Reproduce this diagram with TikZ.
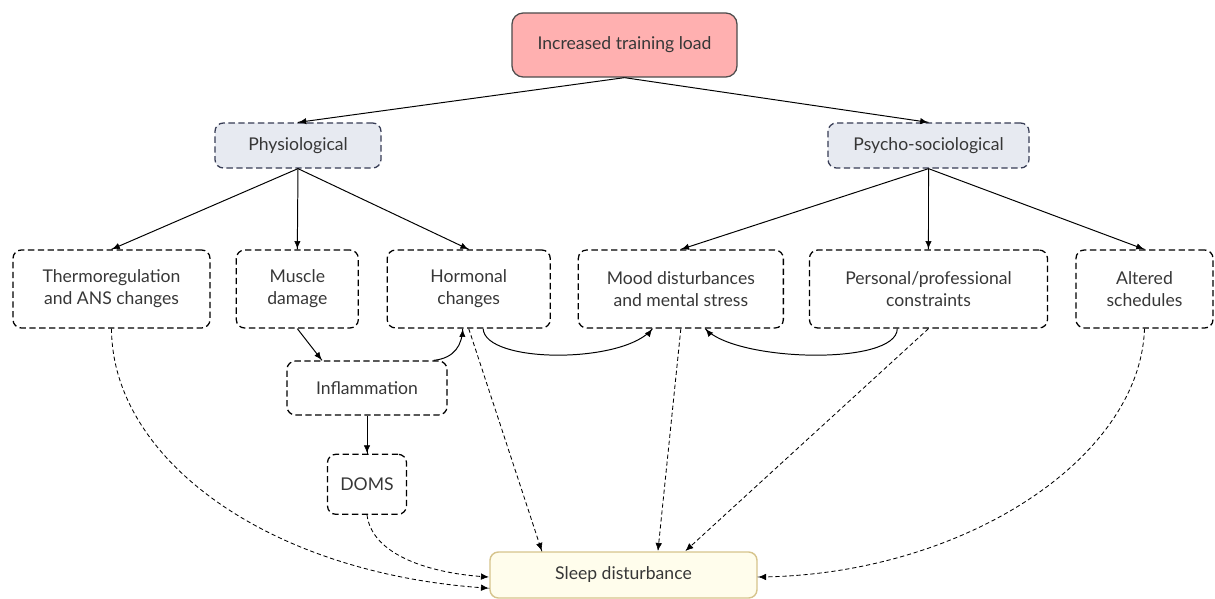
\documentclass[tikz,border=0pt]{standalone}
\usepackage{fontspec}
\setmainfont{Lato}
\usetikzlibrary{positioning, calc, arrows.meta, decorations.markings}

\definecolor{loadpink}{RGB}{255,176,176}
\definecolor{groupgray}{RGB}{231,234,241}
\definecolor{groupline}{RGB}{55,60,85}
\definecolor{sleepfill}{RGB}{255,253,236}
\definecolor{sleepline}{RGB}{214,196,140}
\definecolor{textgray}{RGB}{55,55,55}

\tikzstyle{Arrow} = [
line width=0.7pt,
decoration={
markings,
mark=at position 0.9999 with {
\arrow{Latex[length=6pt,width=5pt]}}},
preaction = {decorate}]
\tikzstyle{Dashed} = [Arrow, dash pattern=on 3pt off 2pt, line width=0.6pt]
\tikzstyle{Box} = [draw, rounded corners=6pt, dash pattern=on 4.5pt off 2.5pt,
line width=0.9pt, align=center, minimum height=1.95cm, text=textgray,
font=\fontsize{12.5}{15.6}\selectfont]
\tikzstyle{Group} = [Box, draw=groupline, fill=groupgray, minimum height=1.125cm]
\tikzstyle{Top} = [Box, solid, draw=black!70, fill=loadpink, rounded corners=8pt,
minimum width=5.625cm, minimum height=1.6cm]
\tikzstyle{Sleep} = [Box, solid, draw=sleepline, fill=sleepfill, line width=1pt,
minimum width=6.675cm, minimum height=1.15cm]

\begin{document}
\begin{tikzpicture}[x=0.025cm, y=-0.025cm]
    \useasboundingbox (0,0) rectangle (1215,598);
    \node [Top] (1) at (624.5,45) {Increased training load};
    \node [Group, minimum width=4.15cm] (2) at (298,145.5) {Physiological};
    \node [Group, minimum width=5.025cm] (3) at (928.5,145.5) {Psycho-sociological};
    \node [Box, minimum width=4.925cm] (4) at (111.5,289) {Thermoregulation\\and ANS changes};
    \node [Box, minimum width=3.05cm, right=0.625cm of 4] (5) {Muscle\\damage};
    \node [Box, minimum width=4.075cm, right=0.69cm of 5] (6) {Hormonal\\changes};
    \node [Box, minimum width=5.125cm, right=0.67cm of 6] (7) {Mood disturbances\\and mental stress};
    \node [Box, minimum width=5.95cm, right=0.62cm of 7] (8) {Personal/professional\\constraints};
    \node [Box, minimum width=3.425cm, right=0.68cm of 8] (9) {Altered\\schedules};
    \node [Box, minimum width=4cm, minimum height=1.35cm] (10) at (367,388) {Inflammation};
    \node [Box, minimum width=1.975cm, minimum height=1.5cm, below=0.95cm of 10] (11) {DOMS};
    \node [Sleep] (12) at (623.5,575) {Sleep disturbance};
    % top levels
    \draw[Arrow] (1.south) -- (2.north);
    \draw[Arrow] (1.south) -- (3.north);
    \draw[Arrow] (2.south) -- (4.north);
    \draw[Arrow] (2.south) -- (5.north);
    \draw[Arrow] (2.south) -- (6.north);
    \draw[Arrow] (3.south) -- (7.north);
    \draw[Arrow] (3.south) -- (8.north);
    \draw[Arrow] (3.south) -- (9.north);
    % physiological chain
    \draw[Arrow] (5.south) -- ([xshift=-1.125cm]10.north);
    \draw[Arrow] ([xshift=-0.35cm]10.north east) .. controls (455,358) and (462,345) .. ([xshift=-0.15cm]6.south);
    \draw[Arrow] (10.south) -- (11.north);
    \draw[Arrow] ([xshift=0.36cm]6.south) .. controls (485,364) and (625,364) .. ([xshift=-0.71cm]7.south);
    \draw[Arrow] ([xshift=-0.78cm]8.south) .. controls (897,366) and (735,362) .. ([xshift=0.61cm]7.south);
    % to sleep disturbance
    \draw[Dashed] (4.south) .. controls (112,460) and (270,575) .. ([yshift=-0.33cm]12.west);
    \draw[Dashed] (11.south) .. controls (372,555) and (430,574) .. ([yshift=-0.05cm]12.west);
    \draw[Dashed] (6.south) -- ([xshift=-2.04cm]12.north);
    \draw[Dashed] (7.south) -- ([xshift=0.86cm]12.north);
    \draw[Dashed] (8.south) -- ([xshift=1.54cm]12.north);
    \draw[Dashed] (9.south) .. controls (1140,460) and (960,576) .. ([yshift=-0.05cm]12.east);
\end{tikzpicture}
\end{document}
